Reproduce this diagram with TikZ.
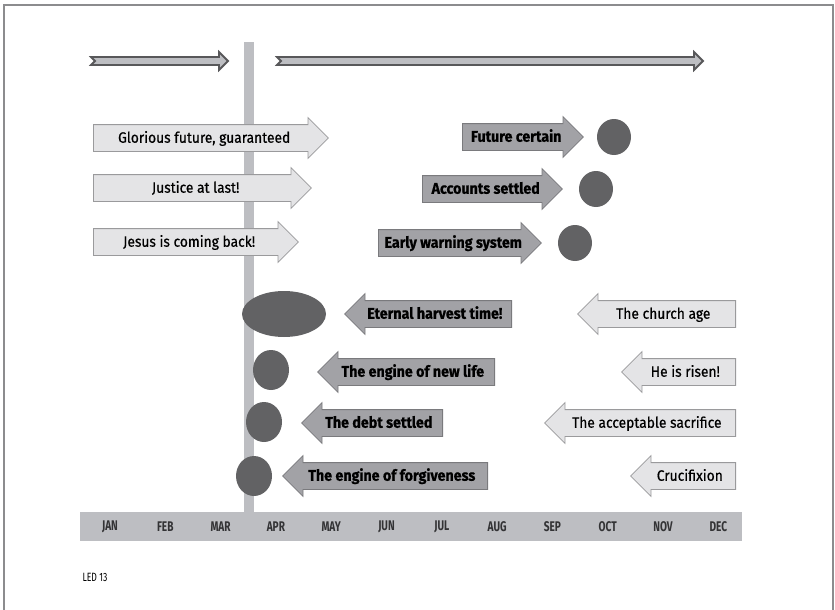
\documentclass[tikz,border=0pt]{standalone}
\usepackage{fontspec}
\setmainfont{Fira Sans}[FakeStretch=0.92, FakeBold=0.6]
\newfontfamily\monthfont{Fira Sans}[FakeStretch=0.72]
\usetikzlibrary{shapes.arrows, shapes.geometric, positioning}
\definecolor{framegray}{HTML}{8C8C8E}
\definecolor{barfill}{HTML}{BDBEC2}
\definecolor{topedge}{HTML}{58585A}
\definecolor{lightfill}{HTML}{E4E4E6}
\definecolor{lightedge}{HTML}{9A9A9C}
\definecolor{darkfill}{HTML}{A2A2A6}
\definecolor{darkedge}{HTML}{7A7A7D}
\definecolor{spotgray}{HTML}{626264}
\definecolor{monthtext}{HTML}{333335}

\begin{document}
\begin{tikzpicture}[x=1pt, y=-1pt,
        every node/.style={font=\fontsize{15}{17}\selectfont},
        arrbox/.style={single arrow, single arrow head extend=7pt,
                       inner xsep=4pt, inner ysep=5.75pt, text height=12pt,
                       text depth=2.5pt, line width=0.8pt},
        lightarr/.style={arrbox, fill=lightfill, draw=lightedge},
        darkarr/.style={arrbox, fill=darkfill, draw=darkedge,
                        font=\fontsize{15.5}{17}\selectfont\bfseries},
        toleft/.style={shape border rotate=180},
        spot/.style={ellipse, fill=spotgray, inner sep=0pt},
        toparr/.style={fill=barfill, draw=topedge, line width=1.8pt},
        month/.style={font=\monthfont\fontsize{14}{16}\selectfont\bfseries,
                      text=monthtext}
    ]
        \useasboundingbox (0,0) rectangle (835,610);
        \draw[framegray, line width=2pt] (4,610) -- (4,5) -- (833,5) -- (833,610);

        % time line
        \fill[barfill] (244,42) rectangle (254,512);
        \draw[toparr] (91,57) -- (219,57) -- (219,52) -- (228,61) -- (219,70)
              -- (219,65) -- (91,65) -- (95,61) -- cycle;
        \draw[toparr] (277,57) -- (694,57) -- (694,52) -- (703,61) -- (694,70)
              -- (694,65) -- (277,65) -- (281,61) -- cycle;

        % future
        \node[lightarr, anchor=tail, minimum height=235pt] (glory) at (93,138)
              {Glorious future, guaranteed};
        \node[lightarr, anchor=tail, minimum height=218pt] (justice) at (93,188)
              {Justice at last!};
        \node[lightarr, anchor=tail, minimum height=205pt] (coming) at (93,242)
              {Jesus is coming back!};
        \node[darkarr, anchor=tail, minimum height=121pt] (certain) at (462,137)
              {Future certain};
        \node[darkarr, anchor=tail, minimum height=140pt] (accounts) at (422,189)
              {Accounts settled};
        \node[darkarr, anchor=tail, minimum height=163pt] (warning) at (378,243)
              {Early warning system};
        \node[spot, minimum width=34pt, minimum height=36pt] (s1) at (614,137) {};
        \node[spot, minimum width=34pt, minimum height=36pt] (s2) at (596,189) {};
        \node[spot, minimum width=34pt, minimum height=36pt] (s3) at (575,243) {};

        % past
        \node[darkarr, toleft, anchor=tail, minimum height=167pt] (harvest) at (512,314)
              {Eternal harvest time!};
        \node[darkarr, toleft, anchor=tail, minimum height=177pt] (newlife) at (495,372)
              {The engine of new life};
        \node[darkarr, toleft, anchor=tail, minimum height=141pt] (debt) at (443,423)
              {The debt settled};
        \node[darkarr, toleft, anchor=tail, minimum height=205pt] (forgive) at (488,476)
              {The engine of forgiveness};
        \node[lightarr, toleft, anchor=tail, minimum height=158pt] (church) at (736,314)
              {The church age};
        \node[lightarr, toleft, anchor=tail, minimum height=114pt] (risen) at (736,372)
              {He is risen!};
        \node[lightarr, toleft, anchor=tail, minimum height=191pt] (sacrifice) at (736,423)
              {The acceptable sacrifice};
        \node[lightarr, toleft, anchor=tail, minimum height=105pt] (cross) at (736,476)
              {Crucifixion};
        \node[spot, minimum width=84pt, minimum height=46pt] (s4) at (284,314) {};
        \node[spot, minimum width=36pt, minimum height=40pt] (s5) at (271,370) {};
        \node[spot, minimum width=36pt, minimum height=40pt] (s6) at (264,422) {};
        \node[spot, minimum width=36pt, minimum height=40pt] (s7) at (254,476) {};

        % months
        \node[fill=barfill, minimum width=662pt, minimum height=29pt, inner sep=0pt,
              anchor=north west] (monthbar) at (80,512) {};
        \foreach \m [count=\i] in {JAN,FEB,MAR,APR,MAY,JUN,JUL,AUG,SEP,OCT,NOV,DEC}
            \node[month] (m\i) at ({110+55.3*(\i-1)},527) {\m};
        \node[font=\monthfont\fontsize{12}{14}\selectfont, anchor=west] (led) at (79,577)
              {LED 13};
    \end{tikzpicture}
\end{document}
